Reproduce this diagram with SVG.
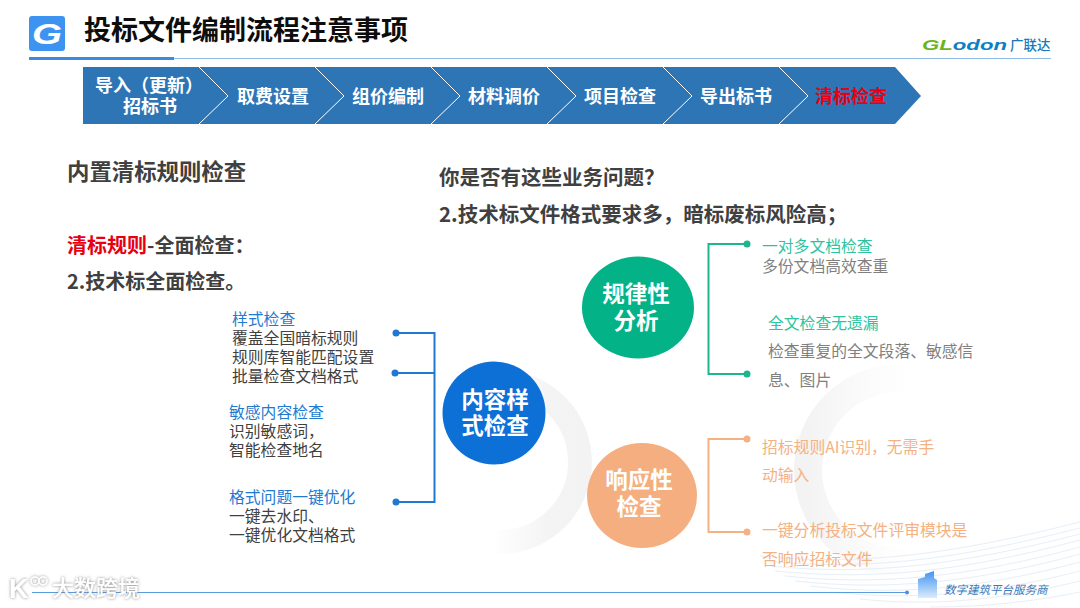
<svg xmlns="http://www.w3.org/2000/svg" width="1080" height="608" viewBox="0 0 1080 608">
<defs>
<style>
text{font-family:"Noto Sans CJK SC","Noto Sans",sans-serif}
.b{font-weight:700}
.chev{fill:#2e75b6}
.sep{fill:none;stroke:#fff;stroke-width:1}
.st{font-size:18px;font-weight:700;fill:#fff;text-anchor:middle}
.hd{font-size:21.5px;font-weight:700;fill:#404040}
.li{font-size:15.8px;fill:#404040}
.bl{font-size:15.8px;fill:#1f7ad0}
.gn{font-size:15.8px;fill:#2cc4a0}
.gy{font-size:15.8px;fill:#808080}
.or{font-size:15.8px;fill:#f4b183}
.ct{font-size:22.5px;font-weight:700;fill:#fff;text-anchor:middle}
.wv{fill:none;stroke:#e6eff8;stroke-width:1}
</style>
<linearGradient id="ring1" x1="0" y1="0.5" x2="1" y2="0.5"><stop offset="0.45" stop-color="#f4f4f4" stop-opacity="0"/><stop offset="0.8" stop-color="#f4f4f4"/><stop offset="1" stop-color="#f3f3f3"/></linearGradient>
<linearGradient id="ring2" x1="0" y1="0" x2="1" y2="0"><stop offset="0" stop-color="#f3f3f3"/><stop offset="0.55" stop-color="#f7f7f7" stop-opacity="0"/></linearGradient>
<linearGradient id="bld" x1="0" y1="0" x2="0" y2="1"><stop offset="0" stop-color="#3f94f2"/><stop offset="1" stop-color="#dcebfc"/></linearGradient>
<filter id="sh" x="-20%" y="-30%" width="140%" height="160%"><feDropShadow dx="0" dy="0" stdDeviation="1.4" flood-color="#777" flood-opacity="0.9"/></filter>
</defs>
<rect width="1080" height="608" fill="#fff"/>
<g id="background">
<circle cx="500" cy="462" r="80" fill="none" stroke="url(#ring1)" stroke-width="24"/>
<circle cx="900" cy="470" r="92" fill="none" stroke="url(#ring2)" stroke-width="28"/>
<path class="wv" d="M760 556C860 566 950 555 1080 522"/>
<path class="wv" d="M765 561C865 571 955 560 1080 528"/>
<path class="wv" d="M770 566C870 576 960 565 1080 534"/>
<path class="wv" d="M775 571C875 581 965 571 1080 540"/>
<path class="wv" d="M785 576C880 586 970 577 1080 547"/>
<path class="wv" d="M795 581C885 591 975 583 1080 554"/>
<path class="wv" d="M810 586C895 596 980 589 1080 562"/>
<path class="wv" d="M830 592C905 600 985 596 1080 571"/>
<path class="wv" d="M860 599C925 606 995 602 1080 581"/>
<path class="wv" d="M930 607C975 607 1020 604 1080 592"/>
</g>
<g id="header">
<rect x="29" y="16" width="36" height="35" rx="3" fill="#3d94f0"/>
<text x="32" y="44" font-size="29" font-weight="700" font-style="italic" fill="#fff" textLength="30" lengthAdjust="spacingAndGlyphs" style="font-family:'Liberation Sans',sans-serif">G</text>
<text x="84" y="40" font-size="27" class="b" fill="#0d0d0d">投标文件编制流程注意事项</text>
<rect x="29" y="57" width="145" height="3" fill="#3d8be0"/>
<line x1="174" y1="58.500" x2="1051" y2="58.500" stroke="#8fbbe8" stroke-width="1"/>
<text x="922" y="50" font-size="15" font-weight="700" font-style="italic" fill="#0d7fc4" textLength="85" lengthAdjust="spacingAndGlyphs" style="font-family:'Liberation Sans',sans-serif"><tspan fill="#69b51c">GL</tspan>odon</text>
<text x="1010" y="50" font-size="13.500" font-weight="500" fill="#1878b8">广联达</text>
</g>
<g id="steps">
<polygon class="chev" points="83,67 895,67 921,96 895,124 83,124"/>
<polyline class="sep" points="199,67 228,96 199,124"/>
<polyline class="sep" points="315,67 344,96 315,124"/>
<polyline class="sep" points="431,67 460,96 431,124"/>
<polyline class="sep" points="547,67 576,96 547,124"/>
<polyline class="sep" points="663,67 692,96 663,124"/>
<polyline class="sep" points="779,67 808,96 779,124"/>
<text class="st"><tspan x="149" y="92">导入（更新）</tspan><tspan x="150" y="113">招标书</tspan></text>
<text class="st" x="273" y="103">取费设置</text>
<text class="st" x="388" y="103">组价编制</text>
<text class="st" x="504" y="103">材料调价</text>
<text class="st" x="620" y="103">项目检查</text>
<text class="st" x="736" y="103">导出标书</text>
<text class="st" x="851" y="103" style="fill:#e60012">清标检查</text>
</g>
<g id="intro">
<text class="hd" x="67" y="180" style="font-size:22.4px">内置清标规则检查</text>
<text class="hd" x="67" y="253" style="font-size:20px"><tspan fill="#e60012">清标规则</tspan>-全面检查：</text>
<text class="hd" x="67" y="289" style="font-size:20px">2.技术标全面检查。</text>
<text class="hd" x="439" y="185" style="font-size:20.5px">你是否有这些业务问题？</text>
<text class="hd" x="439" y="222" style="font-size:20.5px">2.技术标文件格式要求多，暗标废标风险高；</text>
</g>
<g id="connectors" fill="none" stroke-width="2">
<path d="M396 333H434.500V502H396M395 373H434.500" stroke="#1f78d1"/>
<path d="M747 244H708.500V374H747" stroke="#1cb58d"/>
<path d="M747 439H708.500V532H747" stroke="#f4b183"/>
<g stroke="none">
<circle cx="396" cy="333" r="3.500" fill="#1f78d1"/><circle cx="395" cy="373" r="3.500" fill="#1f78d1"/><circle cx="396" cy="502" r="3.500" fill="#1f78d1"/>
<circle cx="747" cy="244" r="3.500" fill="#1cb58d"/><circle cx="747" cy="374" r="3.500" fill="#1cb58d"/>
<circle cx="747" cy="439" r="3.500" fill="#f4b183"/><circle cx="747" cy="532" r="3.500" fill="#f4b183"/>
</g>
</g>
<g id="node-content">
<circle cx="494" cy="413" r="51.500" fill="#0d70d6"/>
<text class="ct"><tspan x="495" y="408">内容样</tspan><tspan x="495" y="434">式检查</tspan></text>
</g>
<g id="node-rule">
<ellipse cx="638" cy="307.500" rx="56" ry="51" fill="#03b287"/>
<text class="ct"><tspan x="636" y="302">规律性</tspan><tspan x="636" y="329">分析</tspan></text>
</g>
<g id="node-response">
<ellipse cx="642" cy="495.500" rx="55" ry="52.500" fill="#f4ae7f"/>
<text class="ct"><tspan x="639" y="488">响应性</tspan><tspan x="639" y="515">检查</tspan></text>
</g>
<g id="list-content">
<text><tspan class="bl" x="232" y="325">样式检查</tspan><tspan class="li" x="232" y="344">覆盖全国暗标规则</tspan><tspan class="li" x="232" y="363">规则库智能匹配设置</tspan><tspan class="li" x="232" y="382">批量检查文档格式</tspan></text>
<text><tspan class="bl" x="229" y="418">敏感内容检查</tspan><tspan class="li" x="229" y="437">识别敏感词，</tspan><tspan class="li" x="229" y="456">智能检查地名</tspan></text>
<text><tspan class="bl" x="229" y="503">格式问题一键优化</tspan><tspan class="li" x="229" y="522">一键去水印、</tspan><tspan class="li" x="229" y="541">一键优化文档格式</tspan></text>
</g>
<g id="list-rule">
<text><tspan class="gn" x="762" y="252">一对多文档检查</tspan><tspan class="gy" x="762" y="272">多份文档高效查重</tspan></text>
<text class="gn" x="768" y="329">全文检查无遗漏</text>
<text class="gy" x="768" y="357">检查重复的全文段落、敏感信</text>
<text class="gy" x="768" y="386">息、图片</text>
</g>
<g id="list-response">
<text class="or" x="762" y="453">招标规则AI识别，无需手</text>
<text class="or" x="762" y="481">动输入</text>
<text class="or" x="762" y="536">一键分析投标文件评审模块是</text>
<text class="or" x="762" y="565">否响应招标文件</text>
</g>
<g id="footer">
<line x1="32" y1="592.500" x2="907" y2="592.500" stroke="#5a9bdc" stroke-width="1"/>
<circle cx="907" cy="592.500" r="2" fill="#4a8fe0"/>
<path d="M925 574l9-3v7l3 2v18h-19v-19l7-2z" fill="url(#bld)"/>
<text x="944" y="594" font-size="11.500" font-style="italic" fill="#3a78b8">数字建筑平台服务商</text>
<g filter="url(#sh)">
<text x="52" y="596" font-size="22" font-weight="500" fill="#fff">大数跨境</text>
<text x="9" y="598" font-size="27" font-weight="700" fill="#fff" style="font-family:'Liberation Sans',sans-serif">K</text>
<ellipse cx="35" cy="581" rx="4" ry="4" fill="none" stroke="#fff" stroke-width="1.500"/>
<ellipse cx="43" cy="581" rx="4" ry="4" fill="none" stroke="#fff" stroke-width="1.500"/>
</g>
</g>
</svg>
